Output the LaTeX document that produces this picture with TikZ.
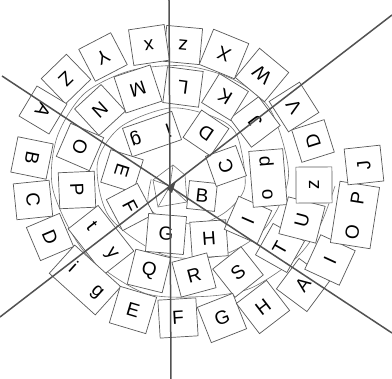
\documentclass[tikz,border=0pt]{standalone}
\usepackage{fontspec}
\setmainfont{Liberation Sans}
\newcommand\placetile[6]{%
  \pgfmathsetmacro\tang{atan2(#3,#2)+90}%
  \node[tilebox,minimum width=#4pt,minimum height=#5pt,rotate=\tang] (#1) at (#2,#3) {#6};}
\newcommand\placetileR[7]{%
  \node[tilebox,minimum width=#4pt,minimum height=#5pt,rotate=#6] (#1) at (#2,#3) {#7};}
\newcommand\twolet[2]{\makebox[0pt]{#1}\hspace{34pt}\makebox[0pt]{#2}}
\begin{document}
\begin{tikzpicture}[x=1pt,y=1pt,
  tilebox/.style={draw=black!65, fill=white, line width=0.7pt, inner sep=0pt,
    font=\fontsize{19}{19}\selectfont},
  guide/.style={draw=black!55, line width=0.6pt},
  axisline/.style={draw=black!68, line width=1.5pt}]
\useasboundingbox (-170,-193) rectangle (222,186);
% spiral guide
\draw[guide] plot[smooth] coordinates {(-200:20) (-139:29) (-102:33) (-54:47) (-24:62)
  (0:75) (37:84) (57:82) (90:78) (130:77) (163:76) (207:68) (264:69) (306:86) (336:104)
  (365:119) (397:126) (419:124) (443:121) (469:122) (493:126) (517:123) (542:117)
  (578:108) (616:110) (646:115) (668:130) (690:145) (705:155) (720:165)};
% centre
\coordinate (c0) at (0,0);
\coordinate (p1) at (-17,6);
\coordinate (p2) at (3,21);
\coordinate (p3) at (15,11);
\coordinate (p4) at (17,-16);
\coordinate (p5) at (-12,-21);
\draw[guide] (p1)--(p2)--(p3)--(p4)--(p5)--cycle;
\foreach \p in {p1,p2,p3,p4,p5} \draw[guide] (c0)--(\p);
% inner arm
\placetileR{t1}{32}{-10}{28}{28}{-6}{B}
\placetile{t2}{56}{20}{32}{32}{C}
\placetile{t3}{36}{53}{33}{33}{D}
\placetile{t4}{-18}{52}{52}{30}{\twolet{i}{g}}
\placetile{t5}{-48}{15}{34}{34}{E}
\placetile{t6}{-40}{-21}{35}{35}{F}
\placetile{t7}{-4}{-48}{38}{38}{G}
\placetileR{t8}{39}{-53}{36}{36}{4}{H}
\placetile{t9}{78}{-34}{36}{36}{I}
\placetile{t10}{98}{8}{56}{34}{\twolet{o}{p}}
% middle arm
\placetile{t11}{85}{64}{36}{36}{J}
\placetile{t12}{55}{89}{34}{34}{K}
\placetile{t13}{13}{99}{36}{36}{L}
\placetile{t14}{-32}{97}{38}{38}{M}
\placetile{t15}{-70}{76}{36}{36}{N}
\placetile{t16}{-90}{39}{36}{36}{O}
\placetile{t17}{-93}{-4}{36}{36}{P}
\placetile{t18}{-69}{-54}{58}{38}{\twolet{t}{y}}
\placetile{t19}{-21}{-85}{36}{36}{Q}
\placetile{t20}{24}{-89}{36}{36}{R}
\placetile{t21}{68}{-86}{36}{36}{S}
\placetile{t22}{110}{-62}{36}{36}{T}
\placetile{t23}{132}{-34}{38}{38}{U}
% outer arm
\placetile{t24}{144}{1}{36}{36}{z}
\placetile{t25}{143}{45}{34}{34}{D}
\placetile{t26}{124}{79}{36}{36}{V}
\placetile{t27}{92}{111}{38}{38}{W}
\placetile{t28}{54}{132}{38}{38}{X}
\placetile{t29}{13}{141}{36}{36}{z}
\placetile{t30}{-21}{141}{36}{36}{x}
\placetile{t31}{-67}{129}{36}{36}{Y}
\placetile{t32}{-104}{107}{35}{35}{Z}
\placetile{t33}{-127}{76}{35}{35}{A}
\placetile{t34}{-138}{28}{36}{36}{B}
\placetile{t35}{-137}{-14}{36}{36}{C}
\placetile{t36}{-120}{-51}{36}{36}{D}
\placetile{t37}{-85}{-94}{62}{38}{\twolet{i}{g}}
\placetile{t38}{-37}{-124}{38}{38}{E}
\placetile{t39}{8}{-132}{38}{38}{F}
\placetile{t40}{52}{-132}{38}{38}{G}
\placetile{t41}{93}{-121}{38}{38}{H}
\placetile{t42}{133}{-99}{38}{38}{A}
\placetile{t43}{160}{-74}{38}{38}{I}
\placetile{t44}{185}{-29}{62}{40}{\twolet{O}{P}}
\placetile{t45}{194}{21}{36}{36}{J}
% straight lines
\coordinate (v1) at (-1,186);
\coordinate (v2) at (1,-193);
\coordinate (a1) at (-168,110);
\coordinate (a2) at (222,-147);
\coordinate (b1) at (222,171);
\coordinate (b2) at (-170,-131);
\draw[axisline] (v1) -- (v2);
\draw[axisline] (a1) -- (a2);
\draw[axisline] (b1) -- (b2);
\fill[black!70] (-3,-3) -- (6,5) -- (2,-7) -- cycle;
\end{tikzpicture}
\end{document}
